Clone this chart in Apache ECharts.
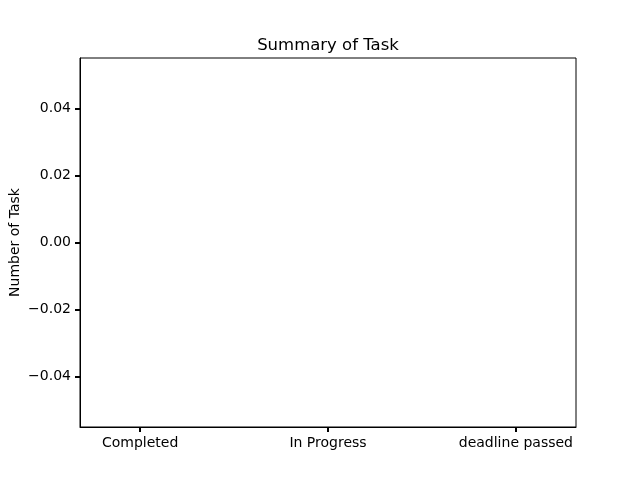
<!DOCTYPE html>
<html>
<head>
<meta charset="utf-8">
<script src="https://cdn.jsdelivr.net/npm/echarts@6/dist/echarts.min.js"></script>
<style>html,body{margin:0;padding:0;background:#fff;}#c{width:640px;height:480px;}</style>
</head>
<body>
<div id="c"></div>
<script>
const categories = ["Completed", "In Progress", "deadline passed"];
const taskCounts = [0, 0, 0];
const yTicks = [-0.04, -0.02, 0.00, 0.02, 0.04];

const chart = echarts.init(document.getElementById('c'), null, {renderer: 'canvas'});
const font = 'DejaVu Sans';
const fmtY = v => (v < 0 ? '\u2212' : '') + Math.abs(v).toFixed(2);
const xTickVals = categories.map((c, i) => i);

chart.setOption({
  animation: false,
  backgroundColor: '#fff',
  title: {
    text: 'Summary of Task',
    left: 323, top: 32, textAlign: 'center',
    textStyle: {fontFamily: font, fontSize: 16.5, fontWeight: 'normal', color: '#000'}
  },
  grid: {left: 80, right: 64, top: 58, bottom: 53, containLabel: false, outerBoundsMode: 'none',
         show: true, borderColor: '#000', borderWidth: 1, backgroundColor: 'transparent'},
  xAxis: {
    type: 'value', min: -0.32, max: 2.32,
    splitLine: {show: false},
    axisLine: {show: true, onZero: false, lineStyle: {color: '#000', width: 1}},
    axisTick: {show: true, length: 5, customValues: xTickVals, lineStyle: {color: '#000', width: 2}},
    axisLabel: {
      show: true, customValues: xTickVals, margin: 9,
      formatter: v => categories[Math.round(v)] || '',
      fontFamily: font, fontSize: 14, color: '#000'
    }
  },
  yAxis: {
    type: 'value', min: -0.055, max: 0.055,
    name: 'Number of Task', nameLocation: 'middle', nameRotate: 90, nameGap: 58, nameMoveOverlap: false,
    nameTextStyle: {fontFamily: font, fontSize: 14, color: '#000'},
    splitLine: {show: false},
    axisLine: {show: true, onZero: false, lineStyle: {color: '#000', width: 1}},
    axisTick: {show: true, length: 5, customValues: yTicks, lineStyle: {color: '#000', width: 2}},
    axisLabel: {customValues: yTicks, formatter: fmtY, margin: 9, fontFamily: font, fontSize: 14, color: '#000'}
  },
  series: [{
    type: 'bar',
    data: taskCounts.map((v, i) => [i, v]),
    barWidth: 75,
    itemStyle: {color: '#1f77b4'}
  }]
});
</script>
</body>
</html>
